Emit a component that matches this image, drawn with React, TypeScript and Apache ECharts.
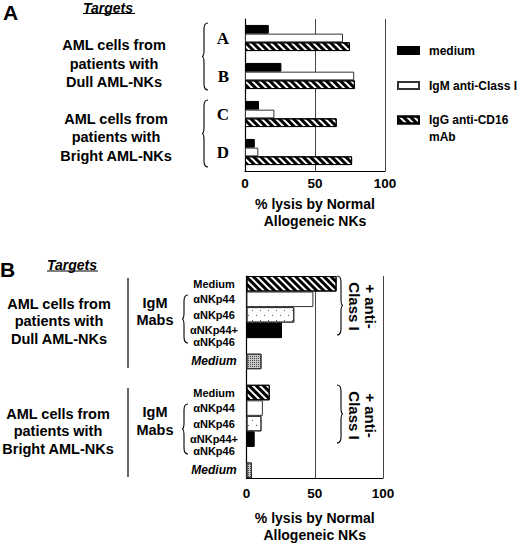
import React, { useEffect, useRef } from 'react';
import * as echarts from 'echarts';

const FONT = "'Liberation Sans', Arial, sans-serif";
const SERIF = "'Liberation Serif', 'Times New Roman', serif";

// panel A: % lysis per target group
const aTargets = ['A', 'B', 'C', 'D'];
const aMedium = [17, 26, 10, 7];
const aIgmClassI = [70, 78, 21, 9.5];
const aIggCd16 = [75, 78.5, 65.5, 76.5];

// panel B: one slot per bar row (null = empty row)
const bCategories = [
  'dull medium', 'dull NKp44', 'dull NKp46', 'dull NKp44+NKp46', 'dull gap', 'dull plain medium', 'separator',
  'bright medium', 'bright NKp44', 'bright NKp46', 'bright NKp44+NKp46', 'bright gap', 'bright plain medium',
];
const bKinds = ['hatch', 'white', 'dots', 'black', null, 'gray', null, 'hatch', 'white', 'dots', 'black', null, 'gray'];
const bValues = [66, 49, 35, 26, null, 11, null, 17, 12, 11, 6, null, 4];
const bTickLabels = [
  'Medium', 'αNKp44', 'αNKp46', 'αNKp44+', '{u|αNKp46}', '{i|Medium}', '',
  'Medium', 'αNKp44', 'αNKp46', 'αNKp44+', '{u|αNKp46}', '{i|Medium}',
];

const hatch = {
  symbol: 'rect', symbolSize: 1, color: '#000',
  dashArrayX: [1, 0], dashArrayY: [2.2, 2], rotation: Math.PI / 4,
};
const dots = {
  symbol: 'rect', symbolSize: 0.8, color: '#222',
  dashArrayX: [[1, 7], [0, 4, 1, 3]], dashArrayY: [1, 4], rotation: 0,
};
const stipple = {
  symbol: 'rect', symbolSize: 1, color: '#444',
  dashArrayX: [1, 1], dashArrayY: [1, 1], rotation: 0,
};

const styles: Record<string, any> = {
  black: { color: '#000', borderColor: '#000', borderWidth: 1 },
  white: { color: '#fff', borderColor: '#333', borderWidth: 1 },
  hatch: { color: '#fff', borderColor: '#000', borderWidth: 1, decal: hatch },
  dots: { color: '#fff', borderColor: '#333', borderWidth: 1, decal: dots },
  gray: { color: '#c8c8c8', borderColor: '#333', borderWidth: 1, decal: stipple },
};

const braceHeights = [67, 48, 50, 59, 58];
braceHeights.forEach((h) => {
  const w = 6;
  const m = w / 3;
  const r = 6;
  const d = `M${w},0 Q${m},0 ${m},${r} L${m},${h / 2 - r} Q${m},${h / 2} 0,${h / 2} ` +
    `Q${m},${h / 2} ${m},${h / 2 + r} L${m},${h - r} Q${m},${h} ${w},${h}`;
  echarts.graphic.registerShape('brace' + h, echarts.graphic.extendPath(d, {}));
});

const txt = (x: number, y: number, text: string, size: number, extra: any = {}) => ({
  type: 'text', x, y, rotation: extra.rotation || 0,
  style: {
    text, fill: '#000', fontFamily: FONT, fontWeight: 'bold', fontSize: size,
    fontStyle: extra.fontStyle || 'normal',
    align: extra.align || 'center', textAlign: extra.align || 'center',
    verticalAlign: 'middle', textVerticalAlign: 'middle',
    lineHeight: extra.lineHeight || size * 1.2,
  },
});
const brace = (x: number, y: number, h: number, flip = false) => ({
  type: 'brace' + h, x, y, scaleX: flip ? -1 : 1,
  style: { fill: 'none', stroke: '#000', lineWidth: 1.1 },
});
const line = (x1: number, y1: number, x2: number, y2: number) => ({
  type: 'line', shape: { x1, y1, x2, y2 }, style: { stroke: '#000', lineWidth: 1.2 },
});

const App: React.FC = () => {
  const chartRef = useRef<HTMLDivElement>(null);

  useEffect(() => {
    const myChart = echarts.init(chartRef.current!, undefined, { renderer: 'svg' });

    const valueAxis = (gridIndex: number, nameGap: number, labelMargin: number) => ({
      type: 'value', gridIndex, min: 0, max: 100, interval: 50,
      axisLine: { show: true, lineStyle: { color: '#000', width: 1.2 } },
      axisTick: { show: false },
      splitLine: { show: true, lineStyle: { color: '#444', width: 1 } },
      axisLabel: { color: '#000', fontFamily: FONT, fontWeight: 'bold', fontSize: 13.5, margin: labelMargin },
      name: '% lysis by Normal\nAllogeneic NKs',
      nameLocation: 'middle',
      nameGap,
      nameTextStyle: { color: '#000', fontFamily: FONT, fontWeight: 'bold', fontSize: 14, lineHeight: 17 },
    });

    const legendBase = {
      orient: 'vertical', left: 397, padding: 0, itemWidth: 21, itemHeight: 7, icon: 'rect',
      selectedMode: false,
      textStyle: { color: '#000', fontFamily: FONT, fontWeight: 'bold', fontSize: 12, lineHeight: 14, padding: [0, 0, 0, 5] },
    };

    const option = {
      animation: false,
      textStyle: { fontFamily: FONT, color: '#000' },
      grid: [
        { left: 245, width: 140, top: 19, height: 152 },
        { left: 246.5, width: 136.5, top: 276, height: 202 },
      ],
      legend: [
        { ...legendBase, top: 43.5, data: ['medium'] },
        { ...legendBase, top: 78.5, data: ['IgM anti-Class I'] },
        {
          ...legendBase, top: 94.5, data: ['IgG anti-CD16 mAb'],
          formatter: () => ' \nIgG anti-CD16\nmAb',
          textStyle: { ...legendBase.textStyle, lineHeight: 17 },
        },
      ],
      xAxis: [valueAxis(0, 24, 5), valueAxis(1, 31, 8)],
      yAxis: [
        {
          type: 'category', gridIndex: 0, data: aTargets, inverse: true,
          axisLine: { show: true, lineStyle: { color: '#000', width: 1.2 } },
          axisTick: { show: false },
          axisLabel: { color: '#000', fontFamily: SERIF, fontWeight: 'bold', fontSize: 17, margin: 16, padding: [8, 0, 0, 0] },
        },
        {
          type: 'category', gridIndex: 1, data: bCategories, inverse: true,
          axisLine: { show: true, lineStyle: { color: '#000', width: 1.2 } },
          axisTick: { show: false },
          axisLabel: {
            interval: 0, align: 'center', margin: 32.5,
            color: '#000', fontFamily: FONT, fontWeight: 'bold', fontSize: 11,
            formatter: (_v: string, i: number) => bTickLabels[i],
            rich: {
              i: { fontFamily: FONT, fontWeight: 'bold', fontStyle: 'italic', fontSize: 12, color: '#000' },
              u: { fontFamily: FONT, fontWeight: 'bold', fontSize: 11, color: '#000', padding: [0, 0, 7, 0] },
            },
          },
        },
      ],
      series: [
        { name: 'medium', type: 'bar', data: aMedium, barWidth: 8.7, barGap: '0%', itemStyle: styles.black },
        { name: 'IgM anti-Class I', type: 'bar', data: aIgmClassI, barWidth: 8.7, barGap: '0%', itemStyle: styles.white },
        { name: 'IgG anti-CD16 mAb', type: 'bar', data: aIggCd16, barWidth: 8.7, barGap: '0%', itemStyle: styles.hatch },
        {
          name: 'panel B', type: 'bar', xAxisIndex: 1, yAxisIndex: 1, barCategoryGap: '0%',
          data: bValues.map((v, i) => (v == null ? '-' : { value: v, itemStyle: styles[bKinds[i] as string] })),
        },
      ],
      graphic: [
        txt(3, 12, 'A', 21, { align: 'left' }),
        txt(83, 7.5, 'Targets', 14, { align: 'left', fontStyle: 'italic' }),
        line(83, 13.5, 135, 13.5),
        txt(114, 63.5, 'AML cells from\npatients with\nDull AML-NKs', 14.5, { lineHeight: 18.5 }),
        txt(116, 137, 'AML cells from\npatients with\nBright AML-NKs', 14.5, { lineHeight: 18.5 }),
        brace(202, 23, 67),
        brace(202, 100, 67),

        txt(0, 269, 'B', 21, { align: 'left' }),
        txt(47, 265, 'Targets', 14, { align: 'left', fontStyle: 'italic' }),
        line(47, 271, 98, 271),
        txt(59, 321, 'AML cells from\npatients with\nDull AML-NKs', 14.5, { lineHeight: 17.5 }),
        txt(58, 431, 'AML cells from\npatients with\nBright AML-NKs', 14.5, { lineHeight: 17.5 }),
        line(128, 278, 128, 368),
        line(128, 388, 128, 477),
        txt(155, 311.5, 'IgM\nMabs', 14.5, { lineHeight: 17.5 }),
        txt(155, 421, 'IgM\nMabs', 14.5, { lineHeight: 17.5 }),
        brace(182, 295, 48),
        brace(182, 404, 50),
        brace(343, 276, 59, true),
        brace(343, 385, 58, true),
        txt(362, 306.5, '+ anti-\nClass I', 15, { rotation: -Math.PI / 2, lineHeight: 16 }),
        txt(362, 415.5, '+ anti-\nClass I', 15, { rotation: -Math.PI / 2, lineHeight: 16 }),
      ],
    };

    myChart.setOption(option as any);

    return () => {
      myChart.dispose();
    };
  }, []);

  return <div ref={chartRef} style={{ position: 'absolute', left: 0, top: 0, width: 520, height: 546 }} />;
};

export default App;
